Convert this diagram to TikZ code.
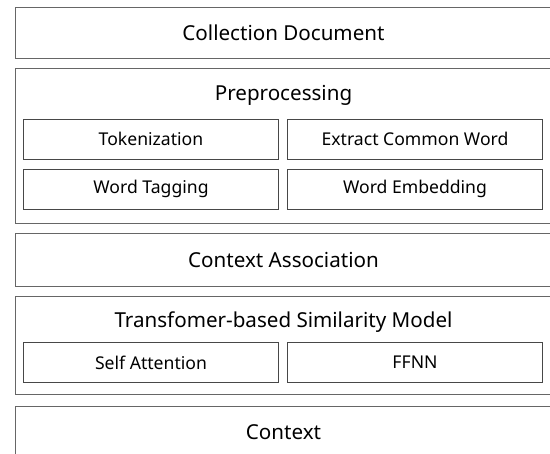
\documentclass[tikz,border=0pt]{standalone}
\usepackage{fontspec}
\setmainfont{Noto Sans}
\begin{document}
\begin{tikzpicture}[x=1pt,y=-1pt,
  outerbox/.style={draw=black!60, line width=0.9pt, rectangle, inner sep=0pt,
    minimum width=536pt, font=\fontsize{20.6}{24}\selectfont},
  innerbox/.style={draw=black!72, line width=0.9pt, rectangle, inner sep=0pt,
    minimum width=255pt, minimum height=40.5pt, font=\fontsize{17.6}{21}\selectfont},
  title/.style={inner sep=0pt, font=\fontsize{20.6}{24}\selectfont}]
\clip (0,0) rectangle (550,454);
\fill[white] (0,0) rectangle (550,454);

% top level
\node[outerbox, minimum height=51pt] (cd) at (283.5,33) {Collection Document};

% preprocessing group
\node[outerbox, minimum height=155pt] (pp) at (283.5,146) {};
\node[title] (pptitle) at (283.5,95) {Preprocessing};
\node[innerbox] (tok) at (151,139.25) {Tokenization};
\node[innerbox] (ecw) at (415,139.25) {Extract Common Word};
\node[innerbox] (wt)  at (151,189.25) {Word Tagging};
\node[innerbox] (we)  at (415,189.25) {Word Embedding};

% context association
\node[outerbox, minimum height=52.5pt] (ca) at (283.5,259.75) {Context Association};

% similarity model group
\node[outerbox, minimum height=98pt] (tsm) at (283.5,345) {};
\node[title] (tsmtitle) at (283.5,322) {Transfomer-based Similarity Model};
\node[innerbox, minimum height=40pt] (sa)   at (151,362.5) {Self Attention};
\node[innerbox, minimum height=40pt] (ffnn) at (415,362.5) {FFNN};

% output
\node[outerbox, minimum height=52pt] (ctx) at (283.5,432) {Context};
\end{tikzpicture}
\end{document}
